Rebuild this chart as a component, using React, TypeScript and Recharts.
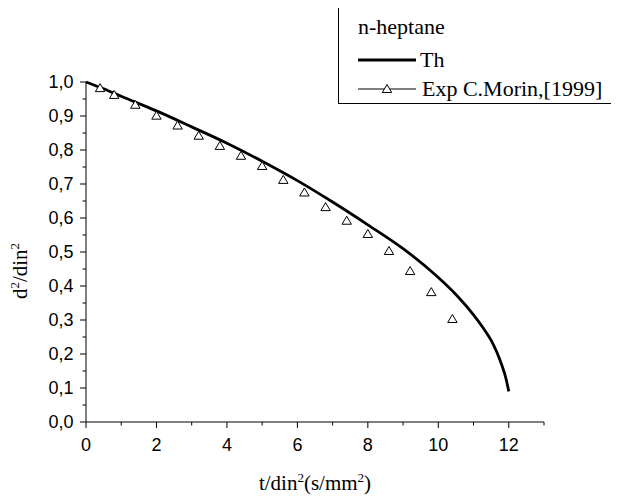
import React from 'react';
import { LineChart, Line, XAxis, YAxis, Legend } from 'recharts';

// Theoretical curve (Th)
const thT = [0, 0.5, 1, 2, 3, 4, 5, 6, 7, 8, 9, 10, 10.5, 11, 11.25, 11.5, 11.65, 11.8, 11.92, 12];
const thD = [1.0, 0.98, 0.958, 0.915, 0.868, 0.82, 0.767, 0.71, 0.647, 0.58, 0.51, 0.425, 0.375, 0.315, 0.28, 0.24, 0.208, 0.168, 0.128, 0.09];

// Experimental points (Exp C.Morin,[1999])
const expT = [0.4, 0.8, 1.4, 2.0, 2.6, 3.2, 3.8, 4.4, 5.0, 5.6, 6.2, 6.8, 7.4, 8.0, 8.6, 9.2, 9.8, 10.4];
const expD = [0.982, 0.962, 0.933, 0.901, 0.872, 0.842, 0.812, 0.783, 0.753, 0.712, 0.675, 0.632, 0.592, 0.553, 0.503, 0.444, 0.382, 0.303];

const xTicks = [0, 1, 2, 3, 4, 5, 6, 7, 8, 9, 10, 11, 12, 13];
const yTicks = [0, 0.05, 0.1, 0.15, 0.2, 0.25, 0.3, 0.35, 0.4, 0.45, 0.5, 0.55, 0.6, 0.65, 0.7, 0.75, 0.8, 0.85, 0.9, 0.95, 1.0];

const legendTitle = 'n-heptane';
const thName = 'Th';
const expName = 'Exp C.Morin,[1999]';

const thData = thT.map((t, i) => ({ t, d: thD[i] }));
const expData = expT.map((t, i) => ({ t, d: expD[i] }));

const W = 611;
const H = 491;
const MT = 74;
const YW = 78;
const XH = 77;
const MR = 75;
const AXIS_Y = H - XH;
const AXIS_X = YW;

const SANS = '"Liberation Sans", Arial, sans-serif';
const SERIF = '"Liberation Serif", "Times New Roman", serif';

const XTick = (props: any) => {
  const { x, payload } = props;
  const v = payload.value;
  const major = Math.round(v) % 2 === 0;
  return (
    <g>
      <line x1={x} x2={x} y1={AXIS_Y} y2={AXIS_Y + (major ? 6 : 3.5)} stroke="#000" strokeWidth={1} />
      {major && (
        <text x={x} y={AXIS_Y + 29} textAnchor="middle" fontFamily={SANS} fontSize={18} fill="#000">
          {String(v)}
        </text>
      )}
    </g>
  );
};

const YTick = (props: any) => {
  const { y, payload } = props;
  const v = payload.value;
  const major = Math.round(v * 100) % 10 === 0;
  return (
    <g>
      <line x1={AXIS_X - (major ? 6 : 3.5)} x2={AXIS_X} y1={y} y2={y} stroke="#000" strokeWidth={1} />
      {major && (
        <text x={AXIS_X - 12.5} y={y + 6.4} textAnchor="end" fontFamily={SANS} fontSize={18} fill="#000">
          {v.toFixed(1).replace('.', ',')}
        </text>
      )}
    </g>
  );
};

const XLabel = () => (
  <text x={(AXIS_X + (W - MR)) / 2} y={481.5} textAnchor="middle" fontFamily={SERIF} fontSize={21} fill="#000">
    t/din
    <tspan dy={-8} fontSize={13}>2</tspan>
    <tspan dy={8}>(s/mm</tspan>
    <tspan dy={-8} fontSize={13}>2</tspan>
    <tspan dy={8}>)</tspan>
  </text>
);

const YLabel = () => (
  <text
    x={0}
    y={0}
    transform={`translate(18.5, 263) rotate(-90)`}
    textAnchor="middle"
    fontFamily={SERIF}
    fontSize={21}
    fill="#000"
  >
    d
    <tspan dy={-8} fontSize={13}>2</tspan>
    <tspan dy={8}>/din</tspan>
    <tspan dy={-8} fontSize={13}>2</tspan>
  </text>
);

const Tri = (props: any) => {
  const { cx, cy, index } = props;
  if (cx == null || cy == null) return <g key={`e${index}`} />;
  return (
    <polygon
      key={`e${index}`}
      points={`${cx},${cy - 4.5} ${cx - 4.7},${cy + 3.5} ${cx + 4.7},${cy + 3.5}`}
      fill="#fff"
      stroke="#000"
      strokeWidth={1}
    />
  );
};

const LegendBox = () => (
  <svg width={281} height={100} style={{ display: 'block' }}>
    <rect x={0.5} y={0.5} width={279} height={97} fill="#fff" stroke="#000" strokeWidth={1} />
    <text x={20} y={28} fontFamily={SERIF} fontSize={22} fill="#000">{legendTitle}</text>
    <line x1={20} x2={78} y1={54} y2={54} stroke="#000" strokeWidth={2.8} />
    <text x={82} y={61} fontFamily={SERIF} fontSize={22} fill="#000">{thName}</text>
    <line x1={20} x2={78} y1={83} y2={83} stroke="#000" strokeWidth={1} />
    <polygon points="49,78.5 44.3,86.5 53.7,86.5" fill="#fff" stroke="#000" strokeWidth={1} />
    <text x={84} y={90} fontFamily={SERIF} fontSize={22} fill="#000">{expName}</text>
  </svg>
);

export default function App() {
  return (
    <div style={{ width: W, height: H, background: '#fff' }}>
      <LineChart width={W} height={H} margin={{ top: MT, right: MR, bottom: 0, left: 0 }}>
        <XAxis
          dataKey="t"
          type="number"
          domain={[0, 13]}
          ticks={xTicks}
          interval={0}
          height={XH}
          tickLine={false}
          axisLine={{ stroke: '#000', strokeWidth: 1 }}
          tick={XTick}
          label={XLabel}
          allowDuplicatedCategory={false}
        />
        <YAxis
          dataKey="d"
          type="number"
          domain={[0, 1]}
          ticks={yTicks}
          interval={0}
          width={YW}
          tickLine={false}
          axisLine={{ stroke: '#000', strokeWidth: 1 }}
          tick={YTick}
          label={YLabel}
        />
        <Legend
          layout="vertical"
          align="center"
          verticalAlign="middle"
          content={LegendBox}
          wrapperStyle={{ position: 'absolute', left: 330, top: -2, width: 281, height: 100 }}
        />
        <Line
          data={thData}
          dataKey="d"
          type="monotone"
          stroke="#000"
          strokeWidth={2.8}
          dot={false}
          activeDot={false}
          isAnimationActive={false}
        />
        <Line
          data={expData}
          dataKey="d"
          type="linear"
          stroke="none"
          dot={Tri}
          activeDot={false}
          isAnimationActive={false}
        />
      </LineChart>
    </div>
  );
}
